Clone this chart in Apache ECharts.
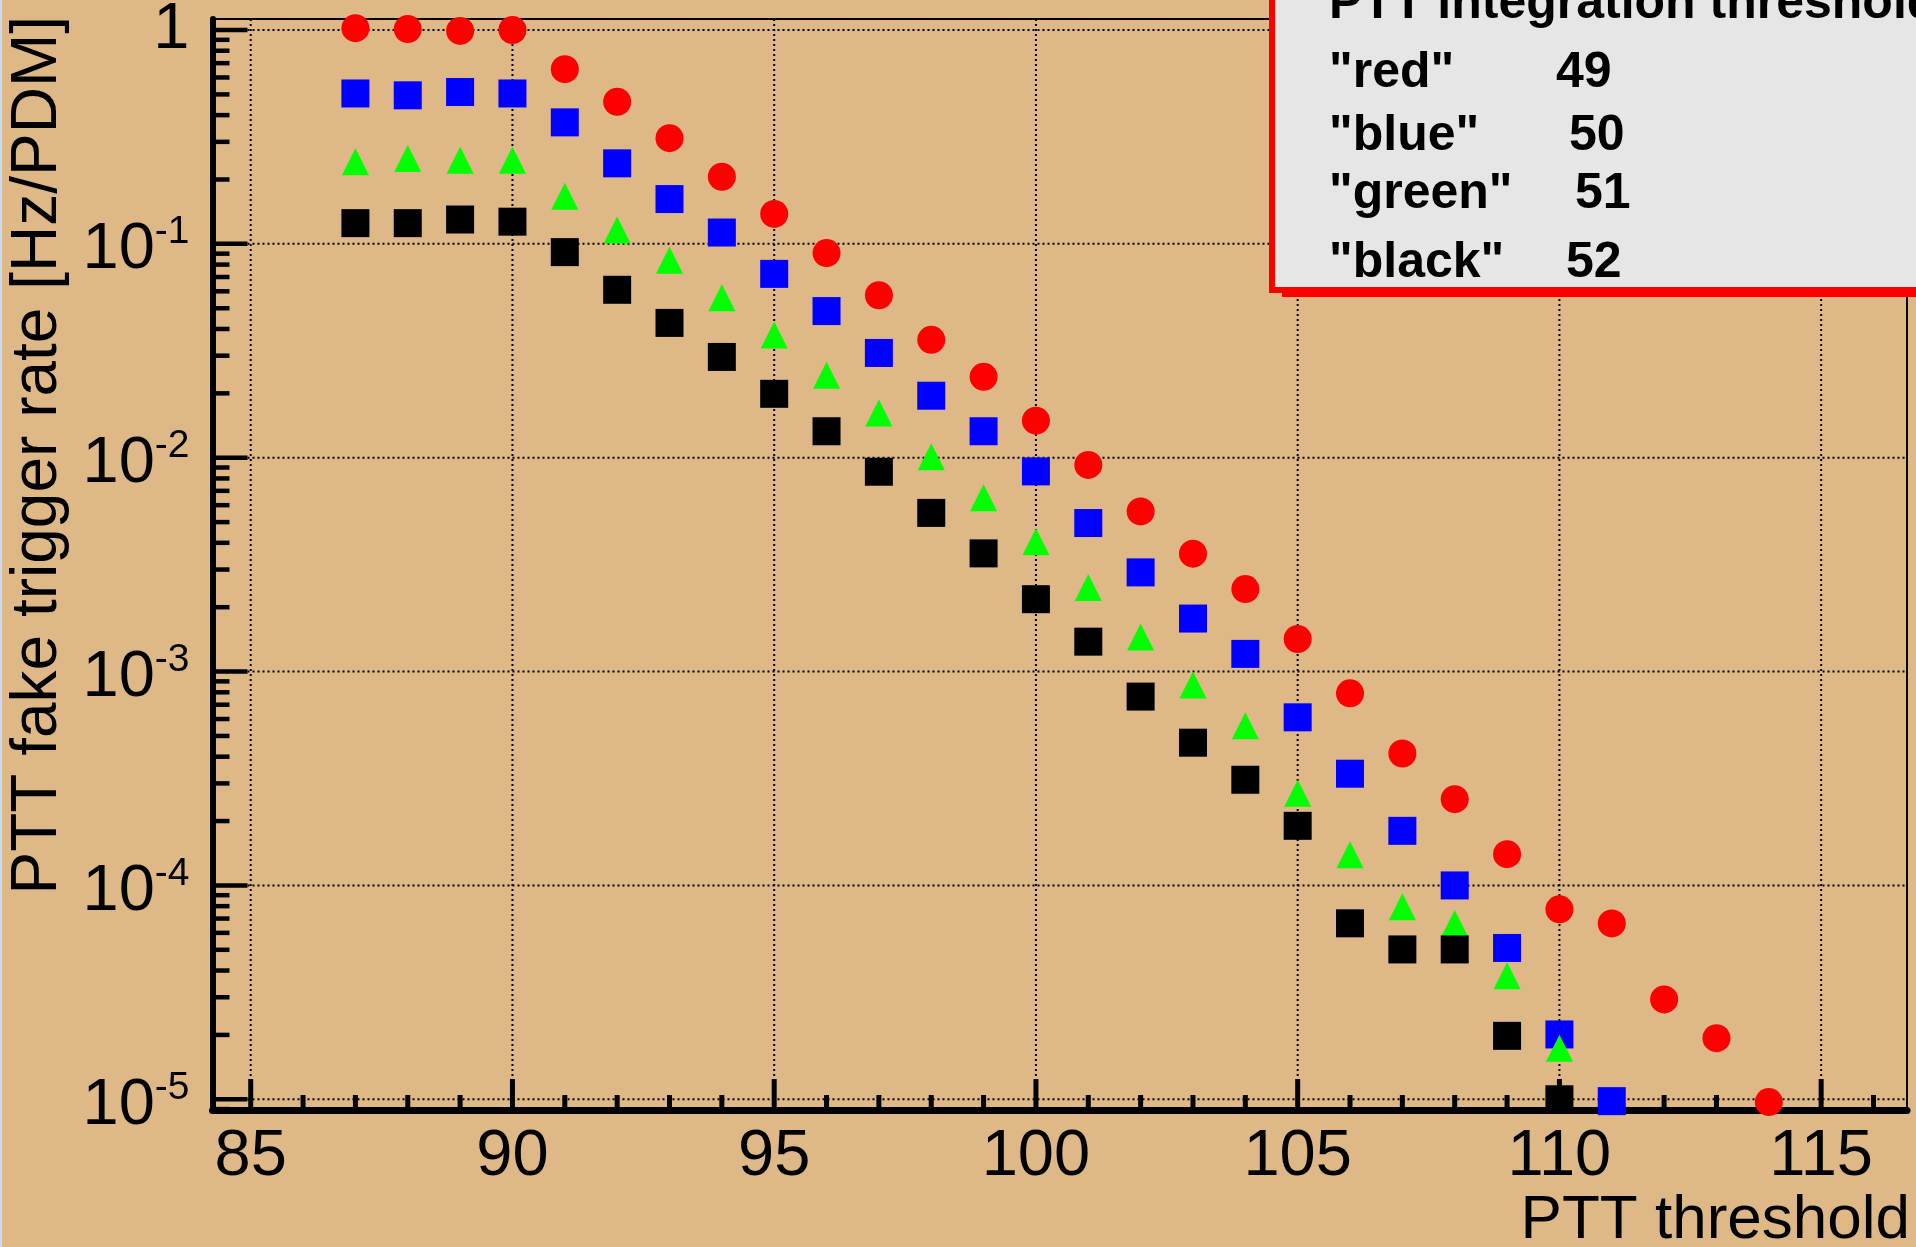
<!DOCTYPE html>
<html>
<head>
<meta charset="utf-8">
<script src="https://cdn.jsdelivr.net/npm/echarts@6/dist/echarts.min.js"></script>
<style>
html, body { margin: 0; padding: 0; background: #DEB887; }
#main { width: 1916px; height: 1247px; }
</style>
</head>
<body>
<div id="main"></div>
<script>
// ---------------- data ----------------
const thresholds = [87, 88, 89, 90, 91, 92, 93, 94, 95, 96, 97, 98, 99, 100,
  101, 102, 103, 104, 105, 106, 107, 108, 109, 110, 111, 112, 113, 114];

const rateRed = [1.02, 1.01, 0.99, 1.0, 0.656, 0.462, 0.312, 0.206, 0.138, 0.0906,
  0.0575, 0.0356, 0.0239, 0.0149, 0.00925, 0.00561, 0.00356, 0.00243, 0.00142, 7.91e-4,
  4.14e-4, 2.53e-4, 1.40e-4, 7.73e-5, 6.64e-5, 2.93e-5, 1.93e-5, 9.7e-6];

const rateBlue = [0.505, 0.495, 0.513, 0.505, 0.37, 0.238, 0.162, 0.113, 0.0724, 0.0485,
  0.0309, 0.0195, 0.0133, 0.00863, 0.00495, 0.00291, 0.00177, 0.00121, 6.11e-4, 3.33e-4,
  1.80e-4, 1.0e-4, 5.1e-5, 2.01e-5, 9.8e-6];

const rateGreen = [0.242, 0.251, 0.246, 0.246, 0.167, 0.116, 0.0838, 0.056, 0.0375, 0.0243,
  0.0162, 0.0101, 0.0065, 0.00405, 0.00247, 0.00145, 8.65e-4, 5.58e-4, 2.7e-4, 1.39e-4,
  7.94e-5, 6.64e-5, 3.78e-5, 1.73e-5];

const rateBlack = [0.125, 0.125, 0.130, 0.127, 0.0915, 0.061, 0.0427, 0.0296, 0.0199, 0.0133,
  0.0086, 0.00552, 0.00357, 0.00218, 0.00138, 7.64e-4, 4.65e-4, 3.12e-4, 1.90e-4, 6.65e-5,
  5.02e-5, 5.02e-5, 1.98e-5, 1.0e-5];

// tick labels / tick positions
const xTickLabels = [85, 90, 95, 100, 105, 110, 115];
const xMinorTicks = [86, 87, 88, 89, 91, 92, 93, 94, 96, 97, 98, 99, 101, 102, 103, 104,
  106, 107, 108, 109, 111, 112, 113, 114, 116];
const yTickLabels = [1e-5, 1e-4, 1e-3, 1e-2, 1e-1, 1];
const yMinorMantissas = [2, 3, 4, 5, 6, 7, 8, 9];

// texts
const xTitle = 'PTT threshold';
const yTitle = 'PTT fake trigger rate [Hz/PDM]';
const legendTitle = 'PTT integration threshold';
const legendNames = ['"red"', '"blue"', '"green"', '"black"'];
const legendValues = ['49', '50', '51', '52'];

// ---------------- layout / style ----------------
const X_MIN = 84.27, X_MAX = 116.64;
const Y_MIN = 8.91e-6, Y_MAX = 1.126;
const FONT = '"Liberation Sans", Arial, Helvetica, sans-serif';

const yMinorTicks = [];
[1e-6, 1e-5, 1e-4, 1e-3, 1e-2, 1e-1].forEach(function (d) {
  yMinorMantissas.forEach(function (m) {
    const v = m * d;
    if (v > Y_MIN && v < Y_MAX) yMinorTicks.push(v);
  });
});

// items for axis decoration: [x, y, kind]
// kind 0: x major tick, 1: x minor tick, 2: y major tick, 3: y minor tick, 4: v-grid, 5: h-grid
const gridItems = [];
xTickLabels.forEach(function (v) { gridItems.push([v, 1, 4]); });
yTickLabels.forEach(function (v) { gridItems.push([85, v, 5]); });
const tickItems = [];
xTickLabels.forEach(function (v) { tickItems.push([v, 1, 0]); });
xMinorTicks.forEach(function (v) { tickItems.push([v, 1, 1]); });
yTickLabels.forEach(function (v) { tickItems.push([85, v, 2]); });
yMinorTicks.forEach(function (v) { tickItems.push([85, v, 3]); });

function renderDecor(params, api) {
  const cs = params.coordSys;
  const left = cs.x, top = cs.y, right = cs.x + cs.width, bottom = cs.y + cs.height;
  const k = api.value(2);
  const p = api.coord([api.value(0), api.value(1)]);
  let shape, style;
  if (k === 0 || k === 1) {
    const len = k === 0 ? 31 : 15;
    shape = { x1: p[0], y1: bottom, x2: p[0], y2: bottom - len };
    style = { stroke: '#000', lineWidth: 5 };
  } else if (k === 2 || k === 3) {
    const len = k === 2 ? 35 : 17;
    shape = { x1: left, y1: p[1], x2: left + len, y2: p[1] };
    style = { stroke: '#000', lineWidth: 4.5 };
  } else if (k === 4) {
    shape = { x1: p[0], y1: top, x2: p[0], y2: bottom };
    style = { stroke: '#000', lineWidth: 2, lineDash: [2, 3] };
  } else {
    shape = { x1: left, y1: p[1], x2: right, y2: p[1] };
    style = { stroke: '#000', lineWidth: 2, lineDash: [2, 3] };
  }
  return { type: 'line', shape: shape, style: style, silent: true };
}

function pairs(values) {
  return values.map(function (v, i) { return [thresholds[i], v]; });
}

function isNear(list, v, tol) {
  for (let i = 0; i < list.length; i++) {
    if (Math.abs(list[i] - v) <= tol * Math.max(1, Math.abs(list[i]))) return true;
  }
  return false;
}

const chart = echarts.init(document.getElementById('main'), null, { renderer: 'canvas' });

const LEG_DY = 4;
const legendGraphics = [
  { type: 'rect', z: 100, shape: { x: 1282, y: 287, width: 700, height: 10 },
    style: { fill: '#FF0000' } },
  { type: 'rect', z: 101, shape: { x: 1272, y: -20, width: 700, height: 310 },
    style: { fill: '#E6E6E6', stroke: '#FF0000', lineWidth: 6 } },
  { type: 'text', z: 102, x: 1329, y: 0.5 + LEG_DY,
    style: { text: legendTitle, font: 'bold 50px ' + FONT, fill: '#000', align: 'left', verticalAlign: 'middle' } }
];
const legendRowY = [69.5, 132.5, 190.5, 259.5];
const legendValueX = [1556, 1569, 1575, 1566];
legendNames.forEach(function (n, i) {
  legendGraphics.push({ type: 'text', z: 102, x: 1329, y: legendRowY[i] + LEG_DY,
    style: { text: n, font: 'bold 50px ' + FONT, fill: '#000', align: 'left', verticalAlign: 'middle' } });
  legendGraphics.push({ type: 'text', z: 102, x: legendValueX[i], y: legendRowY[i] + LEG_DY,
    style: { text: legendValues[i], font: 'bold 50px ' + FONT, fill: '#000', align: 'left', verticalAlign: 'middle' } });
});

const option = {
  animation: false,
  backgroundColor: '#DEB887',
  grid: {
    left: 212.5, right: 9, top: 19, bottom: 137,
    show: true, borderColor: '#000', borderWidth: 2, backgroundColor: 'transparent',
    containLabel: false, outerBoundsMode: 'none'
  },
  xAxis: {
    type: 'value', min: X_MIN, max: X_MAX,
    axisLine: { show: true, onZero: false, lineStyle: { color: '#000', width: 7 } },
    axisTick: { show: false },
    splitLine: { show: false },
    axisLabel: {
      show: true, margin: 15, color: '#000', fontSize: 65, fontFamily: FONT,
      formatter: function (v) { return isNear(xTickLabels, v, 1e-6) ? String(Math.round(v)) : ''; }
    }
  },
  yAxis: {
    type: 'log', logBase: 10, min: Y_MIN, max: Y_MAX,
    axisLine: { show: true, onZero: false, lineStyle: { color: '#000', width: 6 } },
    axisTick: { show: false },
    splitLine: { show: false },
    axisLabel: {
      show: true, margin: 23, color: '#000', fontFamily: FONT,
      formatter: function (v) {
        if (!isNear(yTickLabels, v, 1e-6)) return '';
        const e = Math.round(Math.log10(v));
        if (e === 0) return '{one|1}';
        return '{b|10}{s|' + e + '}';
      },
      rich: {
        one: { fontSize: 65, fontFamily: FONT, color: '#000' },
        b: { fontSize: 65, fontFamily: FONT, color: '#000', padding: [13, 0, 0, 0], verticalAlign: 'top' },
        s: { fontSize: 39, fontFamily: FONT, color: '#000', padding: [8, 0, 0, 0], verticalAlign: 'top' }
      }
    }
  },
  graphic: [
    { type: 'rect', z: 50, shape: { x: 0, y: 0, width: 2, height: 1247 }, style: { fill: '#CADCF0' } },
    { type: 'text', z: 50, x: 1910, y: 1220.5,
      style: { text: xTitle, font: '62px ' + FONT, fill: '#000', align: 'right', verticalAlign: 'middle' } },
    { type: 'text', z: 50, x: 38, y: 16, rotation: Math.PI / 2,
      style: { text: yTitle, font: '64px ' + FONT, fill: '#000', align: 'right', verticalAlign: 'middle' } }
  ].concat(legendGraphics),
  series: [
    { type: 'custom', name: 'grid', z: 1, silent: true, data: gridItems, renderItem: renderDecor },
    { type: 'custom', name: 'ticks', z: 2, silent: true, data: tickItems, renderItem: renderDecor },
    { type: 'scatter', name: 'red', z: 3, data: pairs(rateRed), symbol: 'circle', symbolSize: 28,
      itemStyle: { color: '#FF0000', opacity: 1 } },
    { type: 'scatter', name: 'blue', z: 4, data: pairs(rateBlue), symbol: 'rect', symbolSize: 28,
      itemStyle: { color: '#0000FF', opacity: 1 } },
    { type: 'scatter', name: 'green', z: 5, data: pairs(rateGreen), symbol: 'triangle', symbolSize: 27,
      itemStyle: { color: '#00FF00', opacity: 1 } },
    { type: 'scatter', name: 'black', z: 6, data: pairs(rateBlack), symbol: 'rect', symbolSize: 28,
      itemStyle: { color: '#000000', opacity: 1 } }
  ]
};
chart.setOption(option);
</script>
</body>
</html>
